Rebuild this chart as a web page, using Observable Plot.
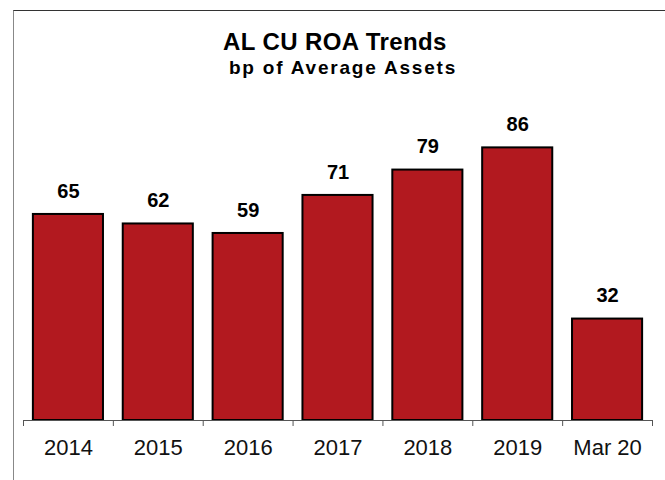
<!DOCTYPE html>
<html>
<head>
<meta charset="utf-8">
<script src="https://cdn.jsdelivr.net/npm/d3@7"></script>
<script src="https://cdn.jsdelivr.net/npm/@observablehq/plot@0.6"></script>
<style>
  html, body { margin: 0; padding: 0; background: #fff; }
  #wrap { position: relative; width: 665px; height: 480px; overflow: hidden; font-family: "Liberation Sans", Arial, sans-serif; }
  #border { position: absolute; left: 13px; top: 10px; width: 700px; height: 500px; border-top: 1.5px solid #333; border-left: 1.5px solid #888; box-sizing: border-box; }
  .title { position: absolute; width: 646px; text-align: center; font-weight: bold; color: #000; white-space: nowrap; }
  #t1 { left: 12px; top: 30px; font-size: 24px; line-height: 24px; letter-spacing: 0.4px; }
  #t2 { left: 20px; top: 58px; font-size: 19px; line-height: 19px; letter-spacing: 1.8px; }
  #chart { position: absolute; left: 0; top: 0; }
</style>
</head>
<body>
<div id="wrap">
  <div id="chart"></div>
  <div id="border"></div>
  <div class="title" id="t1">AL CU ROA Trends</div>
  <div class="title" id="t2">bp of Average Assets</div>
</div>
<script>
const categories = ["2014", "2015", "2016", "2017", "2018", "2019", "Mar 20"];
const values = [65, 62, 59, 71, 79, 86, 32];

const data = categories.map((c, i) => ({category: c, value: values[i]}));

const W = 665, H = 480;
const mL = 23, mR = 13, mT = 103, mB = 60;
const step = (W - mL - mR) / categories.length;

const chart = Plot.plot({
  width: W,
  height: H,
  marginLeft: mL,
  marginRight: mR,
  marginTop: mT,
  marginBottom: mB,
  style: {background: "transparent", fontFamily: "'Liberation Sans', Arial, sans-serif", overflow: "visible"},
  x: {domain: categories, paddingInner: 0.22, paddingOuter: 0.11, round: false, label: null},
  y: {domain: [0, 100], axis: null},
  marks: [
    Plot.barY(data, {x: "category", y: "value", fill: "#B2191F", stroke: "#000", strokeWidth: 2}),
    Plot.text(data, {x: "category", y: "value", text: d => String(d.value), dy: -23, fontSize: 20, fontWeight: "bold", fill: "#000"}),
    Plot.ruleY([0], {stroke: "#555", strokeWidth: 1}),
    Plot.ruleX(categories, {x: d => d, y1: 0, y2: 0, insetBottom: -6, dx: -step / 2, stroke: "#555", strokeWidth: 1}),
    Plot.ruleX([categories[categories.length - 1]], {x: d => d, y1: 0, y2: 0, insetBottom: -6, dx: step / 2, stroke: "#555", strokeWidth: 1}),
    Plot.axisX({tickSize: 0, tickPadding: 19, fontSize: 22, fill: "#111", label: null})
  ]
});
document.getElementById("chart").appendChild(chart);
</script>
</body>
</html>
